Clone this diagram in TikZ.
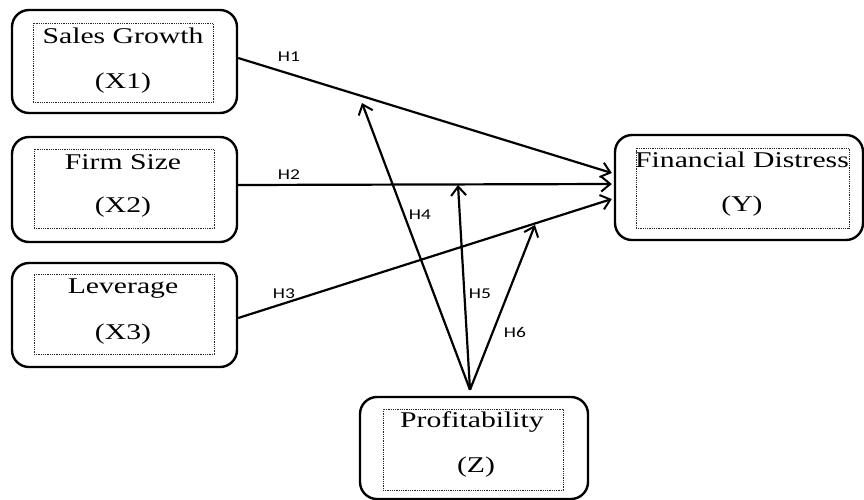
\documentclass[tikz,border=0pt]{standalone}
\usepackage{graphicx}
\usepackage{fontspec}
\setmainfont{Liberation Serif}
\newfontfamily\hfont{Carlito}
\usetikzlibrary{arrows.meta,calc}
\newcommand\sxt[1]{\scalebox{1.32}[1]{#1}}
\newcommand\sxh[1]{\scalebox{1.3}[1]{#1}}
\begin{document}
\begin{tikzpicture}[x=1pt,y=-1pt,
  outerbox/.style={draw,line width=2.4pt,rounded corners=17pt,minimum width=225pt,minimum height=103pt,inner sep=0pt},
  innerbox/.style={draw=black!85,line width=1pt,dash pattern=on 0.9pt off 0.9pt,minimum width=180pt,minimum height=79pt,inner sep=0pt},
  lbl/.style={anchor=base,inner sep=0pt,font=\fontsize{22.5}{26}\selectfont},
  hlbl/.style={anchor=base,inner sep=0pt,font=\hfont\fontsize{15}{18}\selectfont},
  arr/.style={line width=2.2pt,-{Straight Barb[length=9pt,width=15pt,line width=2pt]}}]
\useasboundingbox (0,0) rectangle (864,499);
% boxes
\node[outerbox] (x1) at (124.5,61.5) {};
\node[innerbox] (x1in) at (123,62.5) {};
\node[outerbox,minimum height=105pt] (x2) at (124.5,189.5) {};
\node[innerbox] (x2in) at (124,188.5) {};
\node[outerbox,minimum height=104pt] (x3) at (124.5,315) {};
\node[innerbox,minimum height=80pt] (x3in) at (124,314) {};
\node[outerbox,minimum width=248pt,minimum height=105pt] (y) at (739,187.5) {};
\node[innerbox,minimum width=213pt,minimum height=80pt] (yin) at (742.5,188) {};
\node[outerbox,minimum width=228pt,minimum height=102pt] (z) at (474,448) {};
\node[innerbox,minimum width=180pt,minimum height=81pt] (zin) at (473,449.5) {};
% texts
\node[lbl] (t1a) at (123,43) {\sxt{Sales Growth}};
\node[lbl] (t1b) at (123,88) {\sxt{(X1)}};
\node[lbl] (t2a) at (123,169) {\sxt{Firm Size}};
\node[lbl] (t2b) at (123,212) {\sxt{(X2)}};
\node[lbl] (t3a) at (123,293) {\sxt{Leverage}};
\node[lbl] (t3b) at (123,339) {\sxt{(X3)}};
\node[lbl] (tya) at (742,167) {\sxt{Financial Distress}};
\node[lbl] (tyb) at (742,211) {\sxt{(Y)}};
\node[lbl] (tza) at (472,427) {\sxt{Profitability}};
\node[lbl] (tzb) at (476,472) {\sxt{(Z)}};
% target points
\coordinate (e1) at ($(y.west)+(-2,-14.5)$);
\coordinate (e2) at ($(y.west)+(-2,-3.5)$);
\coordinate (e3) at ($(y.west)+(-2,11.5)$);
\coordinate (m4) at (362,103);
\coordinate (m5) at (458,185);
\coordinate (m6) at (535,225);
\coordinate (zs) at ($(z.north)+(-4,-6)$);
% connectors
\draw[arr] ($(x1.east)+(0,-3.5)$) -- (e1);
\draw[arr] ($(x2.east)+(0,-4.5)$) -- (e2);
\draw[arr] ($(x3.east)+(0,3)$) -- (e3);
\draw[arr] (zs) -- (m4);
\draw[arr] (zs) -- (m5);
\draw[arr] (zs) -- (m6);
% labels
\node[hlbl] (h1) at (289,61) {\sxh{H1}};
\node[hlbl] (h2) at (289,179) {\sxh{H2}};
\node[hlbl] (h3) at (284,298) {\sxh{H3}};
\node[hlbl] (h4) at (420,219) {\sxh{H4}};
\node[hlbl] (h5) at (480,298) {\sxh{H5}};
\node[hlbl] (h6) at (515,337) {\sxh{H6}};
\end{tikzpicture}
\end{document}
